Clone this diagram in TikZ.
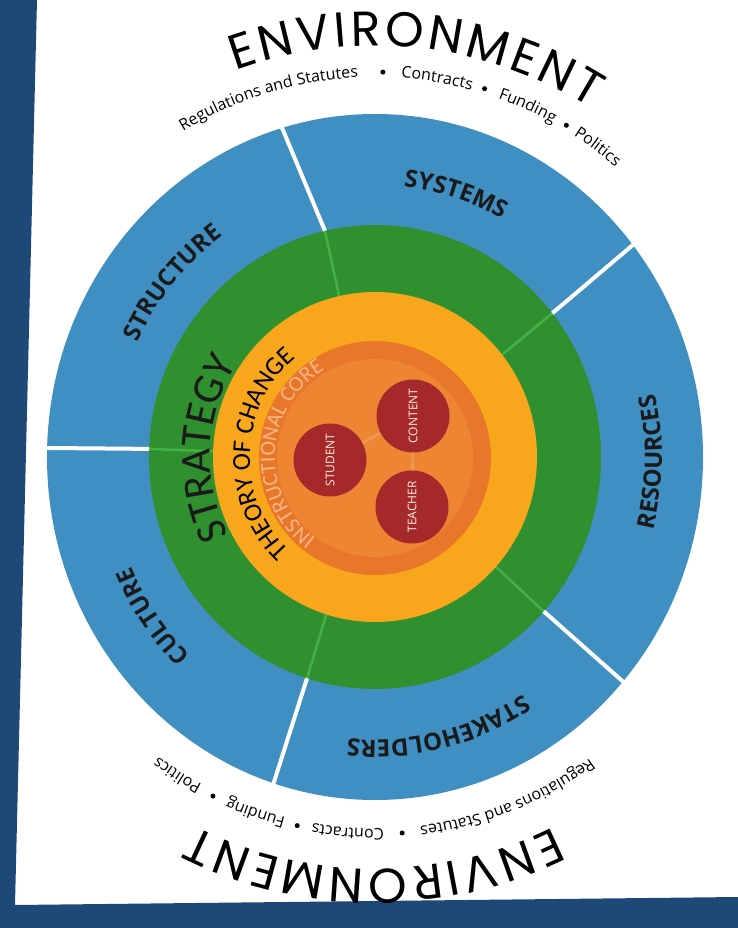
\documentclass[tikz,border=0pt]{standalone}
\usepackage{fontspec}
\setmainfont{Open Sans}
\newfontfamily\envfont{Poppins}
\newfontfamily\calfont{Carlito}
\usetikzlibrary{decorations.text}

\definecolor{pagenavy}{HTML}{1E4878}
\definecolor{ringblue}{HTML}{3F8FC3}
\definecolor{ringgreen}{HTML}{30902F}
\definecolor{changeyellow}{HTML}{F8A61C}
\definecolor{coreorange}{HTML}{E8772A}
\definecolor{coremid}{HTML}{ED8532}
\definecolor{corered}{HTML}{A5282B}
\definecolor{corepale}{HTML}{F5B583}
\definecolor{labelink}{HTML}{1A1A1A}

\newcommand\ringtext[7][center]{%
  \path[decorate, decoration={text along path, text align=#1, text={|#2|#7}}]
    ({#3*cos(#5+#6)},{#4*sin(#5+#6)}) arc[start angle={#5+#6}, end angle={#5-#6}, x radius=#3, y radius=#4];}

\newcommand\envbig{\envfont\fontsize{49}{49}\selectfont}
\newcommand\envsmall{\fontsize{16}{16}\selectfont}
\newcommand\ringlabel{\color{labelink}\bfseries\fontsize{24}{24}\selectfont}

\begin{document}
\begin{tikzpicture}[x=1pt, y=1pt,
  core/.style={circle, fill=corered, minimum size=73pt, inner sep=0pt, rotate=90,
    text=white!88!orange, font=\fontsize{12}{12}\selectfont},
  divider/.style={white, line width=4pt},
  seam/.style={green!55!white, line width=2.5pt, opacity=.3},
  link/.style={coremid!60!white, line width=3pt, opacity=.35}
  ]
	\useasboundingbox (-375,-471) rectangle (363,457);
	\fill[white] (-375,-471) rectangle (363,457);
	\fill[pagenavy] (-375,457) -- (-338,457) -- (-360,-448) -- (363,-440) -- (363,-471) -- (-375,-471) -- cycle;

	\fill[ringblue] (0,0) ellipse[x radius=328, y radius=343];
	\fill[ringgreen] (0,0) ellipse[x radius=226, y radius=232];
	\foreach \a/\b in {102.8/106.5, 178/178.5, 252.5/252, -41.7/-40.9, 38.3/38.2} {
		\draw[seam] ({160*cos(\a)},{163*sin(\a)}) -- ({226*cos(\a)},{232*sin(\a)});
		\draw[divider] ({226*cos(\a)},{232*sin(\a)}) -- ({331*cos(\b)},{346*sin(\b)});
	}
	\fill[changeyellow] (0,0) ellipse[x radius=162, y radius=165];
	\fill[coreorange] (0,-1) ellipse[x radius=116, y radius=117];
	\fill[coremid] (0,-1) ellipse[x radius=98, y radius=99];

	\node[core] (student) at (-45,-3) {STUDENT};
	\node[core] (content) at (38,41) {CONTENT};
	\node[core] (teacher) at (37,-50) {TEACHER};
	\draw[link] (student) -- (content);
	\draw[link] (content) -- (teacher);

	\ringtext[fit to path]{\envbig}{408}{411}{84}{26}{ENVIRONMENT}
	\ringtext{\envsmall}{372}{380}{106.8}{20}{Regulations and Statutes}
	\ringtext{\envsmall}{372}{380}{80.5}{20}{Contracts}
	\ringtext{\envsmall}{372}{380}{66.1}{20}{Funding}
	\ringtext{\envsmall}{372}{380}{53.8}{20}{Politics}
	\foreach \a in {88.8, 73.1, 59.5}
		\fill ({377*cos(\a)},{385*sin(\a)}) circle[radius=2.5];

	\ringtext[fit to path]{\envbig}{405}{412}{-90.2}{26.3}{ENVIRONMENT}
	\ringtext{\envsmall}{366}{372}{-68.5}{20}{Regulations and Statutes}
	\ringtext{\envsmall}{366}{372}{-94.2}{20}{Contracts}
	\ringtext{\envsmall}{366}{372}{-108.8}{20}{Funding}
	\ringtext{\envsmall}{366}{372}{-122.2}{20}{Politics}
	\foreach \a in {-85.8, -102.1, -115.9}
		\fill ({371*cos(\a)},{377*sin(\a)}) circle[radius=2.5];

	\ringtext{\ringlabel}{262}{272}{140}{35}{STRUCTURE}
	\ringtext{\ringlabel}{262}{272}{72.5}{35}{SYSTEMS}
	\ringtext{\ringlabel}{287}{298}{-1}{-35}{RESOURCES}
	\ringtext{\ringlabel}{272}{283}{-76.5}{35}{STAKEHOLDERS}
	\ringtext{\ringlabel}{266}{276}{-145}{35}{CULTURE}

	\ringtext{\color{labelink}\calfont\fontsize{43}{43}\selectfont}{165}{170}{177}{50}{STRATEGY}
	\ringtext{\color{black}\calfont\fontsize{26}{26}\selectfont}{125}{128}{178.2}{65}{THEORY OF CHANGE}
	\ringtext{\color{corepale}\calfont\fontsize{22}{22}\selectfont}{100}{101}{177}{80}{INSTRUCTIONAL CORE}
\end{tikzpicture}
\end{document}
